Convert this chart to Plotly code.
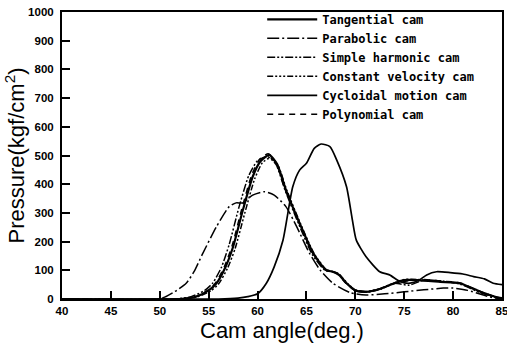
import plotly.graph_objects as go

# ---- data ----
tan_x = [40, 52, 53.7, 55, 55.8, 56.7, 57.5, 58.5, 59.5, 60.3, 61.2, 62, 62.9, 64.3, 65.7, 67, 67.7, 68.3, 69.1, 70, 71.1, 72.5, 74, 75, 76.3, 78.7, 80.7, 82.8, 84.3, 85]
tan_y = [0, 0, 8, 30, 55, 110, 182, 310, 426, 480, 502, 470, 380, 264, 159, 101, 95, 85, 55, 30, 25, 35, 55, 66, 66, 60, 55, 25, 8, 3]

par_x = [40, 50, 50.6, 51.5, 52.7, 53.5, 54.4, 55.8, 57.1, 57.8, 58.5, 59.5, 60.7, 61.7, 62.9, 64, 65.3, 66.4, 67.7, 69.5, 71.1, 73, 75, 77, 79, 80, 81.5, 83, 84, 85]
par_y = [0, 0, 8, 25, 55, 95, 159, 252, 322, 335, 335, 362, 374, 362, 322, 252, 160, 101, 55, 22, 14, 18, 25, 32, 38, 38, 30, 15, 5, 2]

shm_x = [40, 51.5, 53.2, 54.6, 55.4, 56.3, 57.1, 58.1, 59.1, 60.0, 61.0, 61.9, 62.8, 64.2, 65.6, 66.9, 67.6, 68.3, 69.0, 70, 71.1, 72.5, 74, 75.5, 77, 79, 80.7, 82.8, 84.3, 85]
shm_y = [0, 0, 8, 30, 55, 110, 190, 320, 430, 482, 497, 468, 380, 262, 155, 100, 96, 88, 58, 32, 26, 36, 55, 48, 66, 62, 52, 22, 6, 2]

cv_x = [40, 52.2, 53.9, 55.2, 56.0, 56.9, 57.7, 58.7, 59.7, 60.5, 61.3, 62.1, 63.0, 64.4, 65.8, 67.1, 67.8, 68.4, 69.2, 70.1, 71.2, 72.6, 74, 75, 76.3, 78.7, 80.7, 82.8, 84.3, 85]
cv_y = [0, 0, 8, 28, 52, 105, 175, 300, 418, 475, 492, 465, 378, 262, 157, 100, 94, 84, 54, 30, 24, 34, 56, 68, 68, 61, 54, 24, 7, 2]

cyc_x = [40, 56, 58, 59, 60, 60.9, 61.7, 62.6, 63.6, 64.3, 65, 65.8, 66.5, 67.4, 68.1, 69.1, 69.7, 70.1, 71.1, 72.5, 73.5, 74.6, 75.6, 76.5, 77.3, 78.3, 79.7, 81, 82.1, 83.2, 84.1, 85]
cyc_y = [0, 0, 3, 8, 18, 55, 112, 205, 391, 449, 473, 525, 540, 531, 484, 391, 275, 205, 147, 95, 84, 60, 55, 65, 84, 95, 92, 87, 78, 70, 55, 50]

pol_x = [40, 52, 53.6, 54.9, 55.7, 56.6, 57.4, 58.4, 59.4, 60.2, 61.1, 61.9, 62.8, 64.2, 65.6, 66.9, 67.6, 68.2, 69.0, 69.9, 71.0, 72.4, 74, 75.5, 77, 79, 80.7, 82.8, 84.3, 85]
pol_y = [0, 0, 8, 30, 56, 112, 186, 315, 432, 486, 506, 474, 384, 268, 162, 103, 97, 87, 56, 31, 25, 34, 54, 64, 68, 62, 56, 26, 8, 3]

x_ticks = [40, 45, 50, 55, 60, 65, 70, 75, 80, 85]
y_ticks = [0, 100, 200, 300, 400, 500, 600, 700, 800, 900, 1000]

series = [
    ("Tangential cam", tan_x, tan_y, "solid", 2.2),
    ("Parabolic cam", par_x, par_y, "12px,3px,2px,3px", 1.5),
    ("Simple harmonic cam", shm_x, shm_y, "8px,2px,2px,2px,2px,2px", 1.5),
    ("Constant velocity cam", cv_x, cv_y, "6px,2px,2px,2px,2px,2px,2px,2px", 1.5),
    ("Cycloidal motion cam", cyc_x, cyc_y, "solid", 1.7),
    ("Polynomial cam", pol_x, pol_y, "6px,5px", 1.5),
]

fig = go.Figure()
for name, xs, ys, dash, w in series:
    fig.add_trace(go.Scatter(
        x=xs, y=ys, mode="lines", name=name,
        line=dict(color="black", width=w, dash=dash, shape="spline", smoothing=0.6),
    ))

fig.update_layout(
    width=507, height=344,
    margin=dict(l=62, r=5, t=12, b=45, autoexpand=False),
    paper_bgcolor="white", plot_bgcolor="white",
    showlegend=True,
    legend=dict(
        x=0.455, y=1.025, xanchor="left", yanchor="top",
        bgcolor="rgba(0,0,0,0)", borderwidth=0,
        font=dict(family="DejaVu Sans Mono", size=12, color="black", weight="bold"),
        tracegroupgap=0, itemwidth=50,
    ),
    font=dict(family="Liberation Sans", color="black"),
    annotations=[
        dict(text="Cam angle(deg.)", xref="paper", yref="paper", x=0.5, y=0,
             xanchor="center", yanchor="top", yshift=-17, showarrow=False,
             font=dict(family="Liberation Sans", size=22, color="black")),
        dict(text="Pressure(kgf/cm<sup>2</sup>)", xref="paper", yref="paper", x=0, y=0.5,
             xanchor="right", yanchor="middle", xshift=-32, textangle=-90, showarrow=False,
             font=dict(family="Liberation Sans", size=22, color="black")),
    ],
)

fig.update_xaxes(
    range=[40, 85], tickvals=x_ticks, ticktext=[str(v) for v in x_ticks],
    automargin=False, ticklabeloverflow="allow",
    showgrid=False, zeroline=False, showline=True, linecolor="black", linewidth=2,
    mirror=True, ticks="inside", ticklen=8, tickwidth=2, tickcolor="black",
    tickfont=dict(family="Liberation Sans", size=11.5, color="black", weight="bold"),
)
fig.update_yaxes(
    range=[0, 1000], tickvals=y_ticks, ticktext=[str(v) for v in y_ticks],
    automargin=False, ticklabelstandoff=4,
    showgrid=False, zeroline=False, showline=True, linecolor="black", linewidth=2,
    mirror=True, ticks="inside", ticklen=8, tickwidth=2, tickcolor="black",
    tickfont=dict(family="Liberation Sans", size=11.5, color="black", weight="bold"),
)

fig.write_html("out.html", config={"displayModeBar": False},
               post_script="document.body.style.margin='0';document.body.style.overflow='hidden';")
